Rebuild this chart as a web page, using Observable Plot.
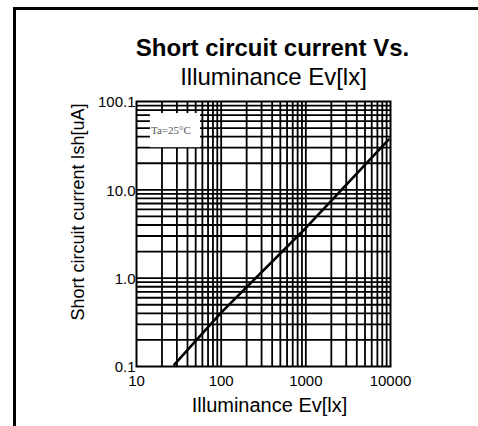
<!DOCTYPE html>
<html><head><meta charset="utf-8">
<script src="https://cdn.jsdelivr.net/npm/d3@7"></script>
<script src="https://cdn.jsdelivr.net/npm/@observablehq/plot@0.6"></script>
<style>
body{margin:0;background:#fff;}
#wrap{position:relative;width:478px;height:426px;overflow:hidden;font-family:"Liberation Sans",Arial,sans-serif;}
#border{position:absolute;left:13px;top:7px;width:480px;height:430px;border-left:3px solid #000;border-top:3px solid #000;}
#chart{position:absolute;left:0;top:0;}
</style></head>
<body><div id="wrap"><div id="border"></div><div id="chart"></div></div>
<script>
const titleBold = "Short circuit current Vs.";
const titleSub = "Illuminance Ev[lx]";
const xLabel = "Illuminance Ev[lx]";
const yLabel = "Short circuit current Ish[uA]";
const noteText = "Ta=25°C";

const xTickValues = [10, 100, 1000, 10000];
const xTickLabels = ["10", "100", "1000", "10000"];
const yTickValues = [0.1, 1, 10, 100];
const yTickLabels = ["0.1", "1.0", "10.0", "100.1"];

const xGrid = [20,30,40,50,60,70,80,90,100,200,300,400,500,600,700,800,900,1000,2000,3000,4000,5000,6000,7000,8000,9000];
const yGrid = [0.2,0.3,0.4,0.5,0.6,0.7,0.8,0.9,1,2,3,4,5,6,7,8,9,10,20,30,40,50,60,70,80,90];

const illuminance = [28, 98, 1000, 9500];
const current = [0.105, 0.40, 3.7, 37];

const noteBox = {x1: 14.6, x2: 57, y1: 30, y2: 73};
const noteX = [25.5];
const noteY = [47];

const series = illuminance.map((x, i) => ({x, y: current[i]}));

const chart = Plot.plot({
  width: 478, height: 426,
  marginLeft: 136, marginRight: 88, marginTop: 101, marginBottom: 60,
  style: {fontFamily: '"Liberation Sans", Arial, sans-serif', background: "transparent", color: "#000"},
  x: {type: "log", domain: [10, 10000]},
  y: {type: "log", domain: [0.1, 100]},
  marks: [
    Plot.ruleX(xGrid, {stroke: "#000", strokeWidth: 1.8}),
    Plot.ruleY(yGrid, {stroke: "#000", strokeWidth: 1.8}),
    Plot.rect([noteBox], {x1: "x1", x2: "x2", y1: "y1", y2: "y2", fill: "#fff"}),
    Plot.text([noteText], {x: noteX, y: noteY, text: d => d, fontFamily: '"Liberation Serif", "DejaVu Serif", serif', fontSize: 11, fill: "#555"}),
    Plot.line(series, {x: "x", y: "y", stroke: "#000", strokeWidth: 2.6}),
    Plot.frame({stroke: "#000", strokeWidth: 2}),
    Plot.axisX(xTickValues, {tickSize: 0, tickPadding: 9, fontSize: 15, label: null, tickFormat: d => xTickLabels[xTickValues.indexOf(d)]}),
    Plot.axisY(yTickValues, {tickSize: 0, tickPadding: 1, fontSize: 15, dy: 1, label: null, tickFormat: d => yTickLabels[yTickValues.indexOf(d)]}),
    Plot.text([titleBold], {frameAnchor: "top", text: d => d, dx: 9, dy: -53, fontSize: 24, fontWeight: "bold", lineAnchor: "middle"}),
    Plot.text([titleSub], {frameAnchor: "top", text: d => d, dx: 10, dy: -24, fontSize: 24, lineAnchor: "middle"}),
    Plot.text([xLabel], {frameAnchor: "bottom", text: d => d, dx: 6, dy: 39, fontSize: 20, lineAnchor: "middle"}),
    Plot.text([yLabel], {frameAnchor: "left", text: d => d, dx: -58, dy: -22, fontSize: 18, rotate: -90, textAnchor: "middle", lineAnchor: "middle"})
  ]
});
document.getElementById("chart").appendChild(chart);
</script>
</body></html>
